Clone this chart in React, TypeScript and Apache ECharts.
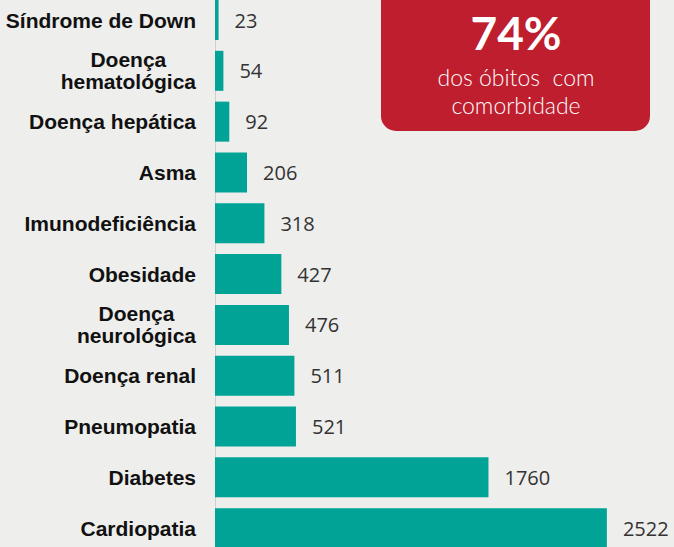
import React, { useEffect, useRef } from "react";
import * as echarts from "echarts";

const categories = [
  "Síndrome de Down",
  "Doença\nhematológica",
  "Doença hepática",
  "Asma",
  "Imunodeficiência",
  "Obesidade",
  "Doença\nneurológica",
  "Doença renal",
  "Pneumopatia",
  "Diabetes",
  "Cardiopatia",
];
const values = [23, 54, 92, 206, 318, 427, 476, 511, 521, 1760, 2522];
const highlightValue = "74%";
const highlightText = "dos óbitos  com\ncomorbidade";

const OFF = 20; // container is shifted up by this many pixels

export default function App() {
  const ref = useRef<HTMLDivElement>(null);
  useEffect(() => {
    if (!ref.current) return;
    const chart = echarts.init(ref.current, undefined, { renderer: "svg" });
    chart.setOption({
      animation: false,
      backgroundColor: "#eeeeec",
      grid: { left: 215, top: OFF - 5.4, width: 404, height: 559, containLabel: false },
      xAxis: {
        type: "value",
        min: 0,
        max: 2600,
        show: false,
      },
      yAxis: {
        type: "category",
        data: categories,
        inverse: true,
        axisLine: { show: true, lineStyle: { color: "#cfcfcd", width: 1 } },
        axisTick: { show: false },
        splitLine: { show: false },
        axisLabel: {
          margin: 19,
          formatter: (v: string) =>
            v
              .split("\n")
              .map((l) => `{c|${l}}`)
              .join("\n"),
          rich: {
            c: {
              fontFamily: "Liberation Sans, Arial, sans-serif",
              fontWeight: "bold",
              fontSize: 21,
              color: "#111111",
              align: "center",
              lineHeight: 22,
            },
          },
        },
      },
      series: [
        {
          type: "bar",
          data: values,
          barWidth: 40,
          itemStyle: { color: "#00a396" },
          label: {
            show: true,
            position: "right",
            distance: 16,
            fontFamily: "Open Sans, sans-serif",
            fontSize: 20,
            color: "#333333",
          },
        },
      ],
      graphic: [
        {
          type: "rect",
          shape: { x: 381, y: OFF - 30, width: 269, height: 161, r: 15 },
          style: { fill: "#be1e2e" },
        },
        {
          type: "text",
          x: 516,
          y: OFF + 32,
          style: {
            text: highlightValue,
            fill: "#ffffff",
            font: "bold 46px Lato, sans-serif",
            textAlign: "center",
            textVerticalAlign: "middle",
          },
        },
        {
          type: "text",
          x: 516,
          y: OFF + 91,
          style: {
            text: highlightText,
            fill: "#ffffff",
            font: "300 23px Lato, sans-serif",
            lineHeight: 28,
            textAlign: "center",
            textVerticalAlign: "middle",
          },
        },
      ],
    });
    return () => chart.dispose();
  }, []);
  return (
    <div
      ref={ref}
      style={{ position: "fixed", left: 0, top: -OFF, width: 674, height: 547 + 2 * OFF }}
    />
  );
}
